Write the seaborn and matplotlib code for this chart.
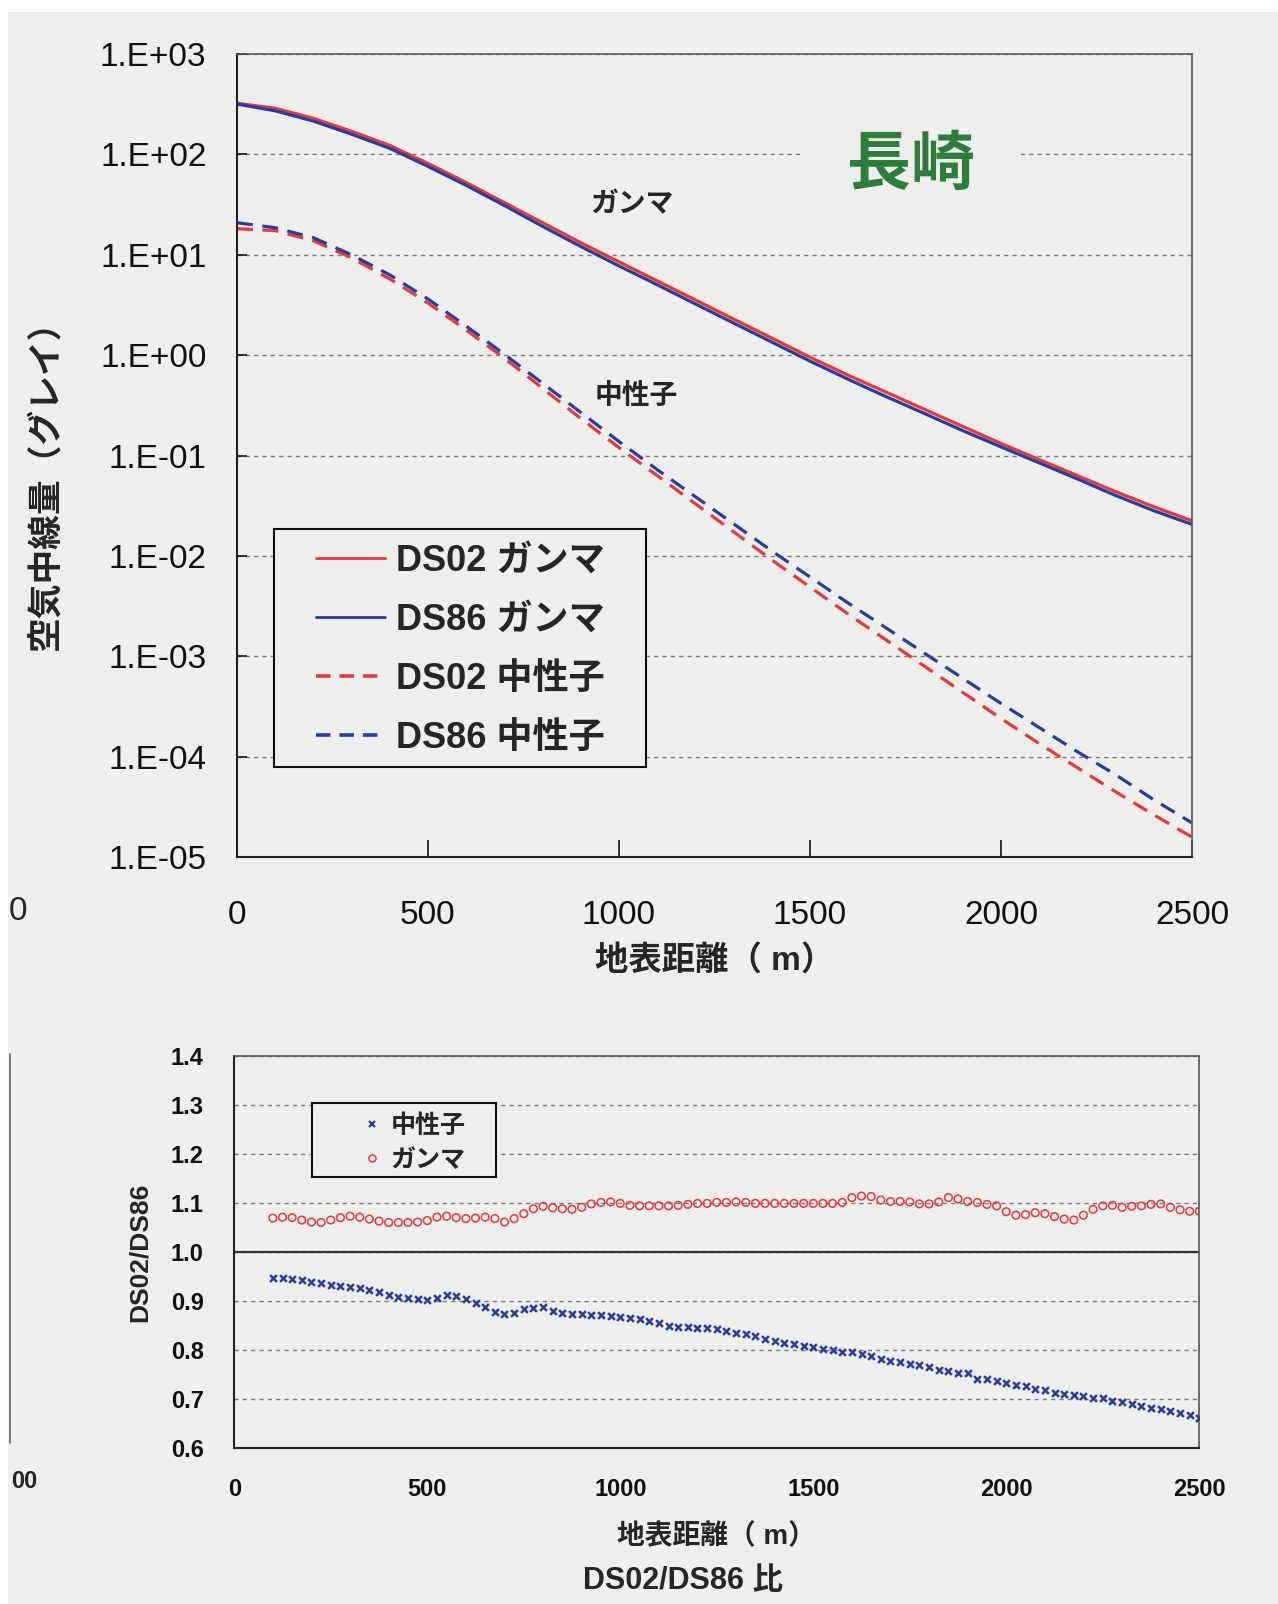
import numpy as np
import pandas as pd
import matplotlib
matplotlib.use("Agg")
import matplotlib.pyplot as plt
import seaborn as sns
from matplotlib.lines import Line2D
from matplotlib.patches import Rectangle

# ---------------- data ----------------
dist_m = [0, 100, 200, 300, 400, 500, 600, 700, 800, 900, 1000, 1100, 1200,
          1300, 1400, 1500, 1600, 1700, 1800, 1900, 2000, 2100, 2200, 2300, 2400, 2500]

ds02_gamma = [324, 288, 229, 170, 123, 81.3, 52.5, 33.1, 20.9, 13.2, 8.51, 5.50, 3.55,
              2.29, 1.48, 0.955, 0.631, 0.427, 0.288, 0.195, 0.132, 0.0912, 0.0631,
              0.0437, 0.0309, 0.0224]
ds86_gamma = [318, 272, 215, 159, 115, 76.0, 49.2, 31.0, 19.2, 12.1, 7.75, 5.03, 3.24,
              2.09, 1.35, 0.872, 0.575, 0.385, 0.262, 0.177, 0.122, 0.0845, 0.0585,
              0.0400, 0.0282, 0.0206]
ds02_neutron = [18.2, 17.4, 13.8, 9.33, 5.75, 3.31, 1.78, 0.933, 0.468, 0.234, 0.120,
                0.0631, 0.0331, 0.0174, 9.12e-3, 4.90e-3, 2.63e-3, 1.45e-3, 7.94e-4,
                4.37e-4, 2.40e-4, 1.35e-4, 7.76e-5, 4.47e-5, 2.63e-5, 1.58e-5]
ds86_neutron = [20.9, 18.6, 14.8, 10.0, 6.31, 3.63, 1.95, 1.02, 0.525, 0.269, 0.138,
                0.0724, 0.0389, 0.0209, 0.0112, 6.17e-3, 3.39e-3, 1.91e-3, 1.07e-3,
                6.03e-4, 3.39e-4, 1.95e-4, 1.12e-4, 6.61e-5, 3.72e-5, 2.19e-5]

top_series_labels = ["DS02 ガンマ", "DS86 ガンマ", "DS02 中性子", "DS86 中性子"]
top_ytick_values = [1e-5, 1e-4, 1e-3, 1e-2, 1e-1, 1e0, 1e1, 1e2, 1e3]
top_ytick_labels = ["1.E-05", "1.E-04", "1.E-03", "1.E-02", "1.E-01",
                    "1.E+00", "1.E+01", "1.E+02", "1.E+03"]
xtick_values = [0, 500, 1000, 1500, 2000, 2500]

ratio_dist_m = list(range(100, 2501, 25))
ratio_gamma = [
    1.069, 1.071, 1.070, 1.065,            # 100-175
    1.061, 1.060, 1.065, 1.070,            # 200-275
    1.073, 1.071, 1.067, 1.063,            # 300-375
    1.060, 1.060, 1.060, 1.061,            # 400-475
    1.064, 1.071, 1.073, 1.070,            # 500-575
    1.068, 1.069, 1.071, 1.068,            # 600-675
    1.061, 1.068, 1.078, 1.088,            # 700-775
    1.093, 1.090, 1.088, 1.087,            # 800-875
    1.091, 1.098, 1.101, 1.102,            # 900-975
    1.099, 1.095, 1.094, 1.094,            # 1000-1075
    1.094, 1.094, 1.095, 1.097,            # 1100-1175
    1.099, 1.099, 1.101, 1.101,            # 1200-1275
    1.102, 1.101, 1.099, 1.099,            # 1300-1375
    1.099, 1.099, 1.099, 1.099,            # 1400-1475
    1.099, 1.099, 1.099, 1.101,            # 1500-1575
    1.111, 1.114, 1.113, 1.106,            # 1600-1675
    1.103, 1.103, 1.102, 1.098,            # 1700-1775
    1.098, 1.102, 1.111, 1.108,            # 1800-1875
    1.103, 1.101, 1.097, 1.094,            # 1900-1975
    1.082, 1.075, 1.076, 1.080,            # 2000-2075
    1.078, 1.072, 1.067, 1.065,            # 2100-2175
    1.075, 1.087, 1.094, 1.095,            # 2200-2275
    1.091, 1.093, 1.094, 1.097,            # 2300-2375
    1.098, 1.091, 1.086, 1.083,            # 2400-2475
    1.083]                                 # 2500
ratio_neutron = [
    0.946, 0.946, 0.944, 0.943,
    0.939, 0.936, 0.932, 0.931,
    0.929, 0.927, 0.922, 0.918,
    0.913, 0.909, 0.906, 0.903,
    0.902, 0.906, 0.912, 0.910,
    0.903, 0.895, 0.887, 0.877,
    0.873, 0.876, 0.883, 0.886,
    0.887, 0.879, 0.875, 0.873,
    0.873, 0.872, 0.871, 0.869,
    0.868, 0.865, 0.863, 0.860,
    0.854, 0.849, 0.846, 0.846,
    0.845, 0.844, 0.842, 0.838,
    0.835, 0.833, 0.829, 0.823,
    0.819, 0.815, 0.812, 0.808,
    0.805, 0.801, 0.799, 0.796,
    0.795, 0.792, 0.788, 0.782,
    0.778, 0.776, 0.771, 0.770,
    0.765, 0.759, 0.756, 0.753,
    0.752, 0.741, 0.740, 0.736,
    0.732, 0.729, 0.727, 0.721,
    0.718, 0.713, 0.710, 0.707,
    0.706, 0.701, 0.701, 0.695,
    0.694, 0.690, 0.686, 0.682,
    0.680, 0.676, 0.672, 0.668,
    0.661]
ratio_labels = ["中性子", "ガンマ"]
bottom_ytick_values = [0.6, 0.7, 0.8, 0.9, 1.0, 1.1, 1.2, 1.3, 1.4]

# ---------------- style ----------------
sns.set_theme(style="white")
plt.rcParams["font.family"] = ["Liberation Sans", "Noto Sans CJK JP", "DejaVu Sans"]
plt.rcParams["axes.unicode_minus"] = False

BG = "#eeeeec"
RED = "#e5383f"
BLUE = "#2b3c9e"
GREEN = "#2f7d3c"
GRID = "#7a7a7a"

fig = plt.figure(figsize=(12.78, 16.04), dpi=100, facecolor=BG)
fig.add_artist(Rectangle((0, 1 - 12 / 1604), 1, 12 / 1604, transform=fig.transFigure,
                         facecolor="white", edgecolor="none", zorder=0))
fig.add_artist(Rectangle((0, 0), 8 / 1278, 1, transform=fig.transFigure,
                         facecolor="white", edgecolor="none", zorder=0))

# ---------------- top chart ----------------
ax1 = fig.add_axes([0.1854, 0.4657, 0.7473, 0.5006], facecolor=BG)
top_df = pd.DataFrame({
    "dist": dist_m * 4,
    "dose": ds02_gamma + ds86_gamma + ds02_neutron + ds86_neutron,
    "series": sum([[lab] * len(dist_m) for lab in top_series_labels], []),
})
colors = {top_series_labels[0]: RED, top_series_labels[1]: BLUE,
          top_series_labels[2]: RED, top_series_labels[3]: BLUE}
dashes = {top_series_labels[0]: "", top_series_labels[1]: "",
          top_series_labels[2]: (5, 3), top_series_labels[3]: (5, 3)}
sns.lineplot(data=top_df, x="dist", y="dose", hue="series", style="series",
             hue_order=top_series_labels, style_order=top_series_labels,
             palette=colors, dashes=dashes, linewidth=2.3, ax=ax1, legend=False)
ax1.set_yscale("log")
ax1.set_xlim(0, 2500)
ax1.set_ylim(1e-5, 1e3)
ax1.yaxis.set_major_locator(matplotlib.ticker.FixedLocator(top_ytick_values))
ax1.yaxis.set_minor_locator(matplotlib.ticker.NullLocator())
ax1.set_yticklabels(top_ytick_labels)
ax1.set_xticks(xtick_values)
ax1.set_xticklabels([str(v) for v in xtick_values])
ax1.tick_params(axis="y", direction="in", length=7, width=1.2, pad=22,
                labelsize=24, left=True, colors="#111111")
ax1.tick_params(axis="x", direction="in", length=12, width=1.2, pad=31,
                labelsize=24, bottom=True, colors="#111111")
ax1.yaxis.grid(True, linestyle=(0, (3, 3)), color=GRID, linewidth=1.0)
ax1.xaxis.grid(False)
ax1.set_axisbelow(True)
for side in ["left", "bottom"]:
    ax1.spines[side].set_color("#222222")
    ax1.spines[side].set_linewidth(1.5)
for side in ["top", "right"]:
    ax1.spines[side].set_color("#555555")
    ax1.spines[side].set_linewidth(1.2)
ax1.set_xlabel("地表距離（ m）", fontsize=24, fontweight="bold", labelpad=10)
ax1.set_ylabel("空気中線量（グレイ）", fontsize=25, fontweight="bold")
ax1.yaxis.set_label_coords(-0.183, 0.474)

ax1.text(1034, 31, "ガンマ", ha="center", va="center", fontsize=20, fontweight="bold")
ax1.text(1045, 0.38, "中性子", ha="center", va="center", fontsize=20, fontweight="bold")
ax1.text(1764, 76, "長崎", ha="center", va="center", fontsize=46, fontweight="bold",
         color=GREEN, bbox=dict(boxstyle="square,pad=0.7", facecolor=BG, edgecolor="none"))

# legend frame (wider horizontal padding than vertical, as in the scan)
ax1.add_patch(Rectangle((0.0387, 0.112), 0.3895, 0.2965, transform=ax1.transAxes,
                        facecolor=BG, edgecolor="#111111", linewidth=1.5, zorder=4))
handles1 = [Line2D([], [], color=RED, lw=2.0),
            Line2D([], [], color=BLUE, lw=2.0),
            Line2D([], [], color=RED, lw=2.6, linestyle=(0, (4, 2.5))),
            Line2D([], [], color=BLUE, lw=2.6, linestyle=(0, (4, 2.5)))]
leg1 = ax1.legend(handles1, top_series_labels, loc="center",
                  bbox_to_anchor=(0.234, 0.258), frameon=False,
                  handlelength=1.9, handletextpad=0.3, labelspacing=0.66,
                  borderpad=0.0, borderaxespad=0,
                  prop={"weight": "bold", "size": 26})
leg1.set_zorder(5)

# ---------------- bottom chart ----------------
ax2 = fig.add_axes([0.1833, 0.0973, 0.7551, 0.2444], facecolor=BG)
ratio_df = pd.DataFrame({
    "dist": ratio_dist_m * 2,
    "ratio": ratio_neutron + ratio_gamma,
    "kind": [ratio_labels[0]] * len(ratio_dist_m) + [ratio_labels[1]] * len(ratio_dist_m),
})
sns.scatterplot(data=ratio_df[ratio_df["kind"] == ratio_labels[0]], x="dist", y="ratio",
                marker="x", s=24, color=BLUE, linewidth=1.8, ax=ax2, legend=False, zorder=3)
sns.scatterplot(data=ratio_df[ratio_df["kind"] == ratio_labels[1]], x="dist", y="ratio",
                marker="o", s=30, facecolors="none", edgecolor=RED, linewidth=1.1,
                ax=ax2, legend=False, zorder=3)
ax2.axhline(1.0, color="#333333", linewidth=1.6, zorder=2)
ax2.set_xlim(0, 2500)
ax2.set_ylim(0.6, 1.4)
ax2.set_xticks(xtick_values)
ax2.set_xticklabels([str(v) for v in xtick_values], fontweight="bold")
ax2.set_yticks(bottom_ytick_values)
ax2.set_yticklabels([f"{v:.1f}" for v in bottom_ytick_values], fontweight="bold")
ax2.tick_params(axis="y", direction="in", length=6, width=1.2, pad=22,
                labelsize=17, colors="#111111")
ax2.tick_params(axis="x", direction="in", length=10, width=1.2, pad=22,
                labelsize=17, colors="#111111")
ax2.yaxis.grid(True, linestyle=(0, (3, 3)), color=GRID, linewidth=1.0)
ax2.xaxis.grid(False)
ax2.set_axisbelow(True)
for side in ["left", "bottom"]:
    ax2.spines[side].set_color("#222222")
    ax2.spines[side].set_linewidth(1.5)
for side in ["top", "right"]:
    ax2.spines[side].set_color("#555555")
    ax2.spines[side].set_linewidth(1.2)
ax2.set_xlabel("地表距離（ m）", fontsize=20, fontweight="bold", labelpad=16)
ax2.set_ylabel("DS02/DS86", fontsize=19, fontweight="bold", labelpad=14)

ax2.add_patch(Rectangle((0.0805, 0.691), 0.1905, 0.189, transform=ax2.transAxes,
                        facecolor=BG, edgecolor="#111111", linewidth=1.5, zorder=4))
handles2 = [Line2D([], [], marker="x", color=BLUE, linestyle="none", markersize=4.5, mew=1.6),
            Line2D([], [], marker="o", color=RED, markerfacecolor="none",
                   linestyle="none", markersize=5, mew=1.1)]
leg2 = ax2.legend(handles2, ratio_labels, loc="center", bbox_to_anchor=(0.185, 0.779),
                  frameon=False, handlelength=1.0, handletextpad=0.25,
                  labelspacing=0.4, borderpad=0.0, borderaxespad=0,
                  prop={"weight": "bold", "size": 18})
leg2.set_zorder(5)

fig.text(683 / 1278, 1 - 1581 / 1604, "DS02/DS86 比", ha="center", va="center",
         fontsize=22, fontweight="bold")

# fragments of a neighbouring chart visible at the left edge of the scan
fig.text(18 / 1278, 1 - 911 / 1604, "0", ha="center", va="center", fontsize=24)
fig.text(24 / 1278, 1 - 1481 / 1604, "00", ha="center", va="center", fontsize=17,
         fontweight="bold")
fig.add_artist(Line2D([10 / 1278, 10 / 1278], [1 - 1054 / 1604, 1 - 1443 / 1604],
                      transform=fig.transFigure, color="#5a6a9a", lw=1.2))

fig.savefig("out.png", dpi=100, facecolor=BG)
